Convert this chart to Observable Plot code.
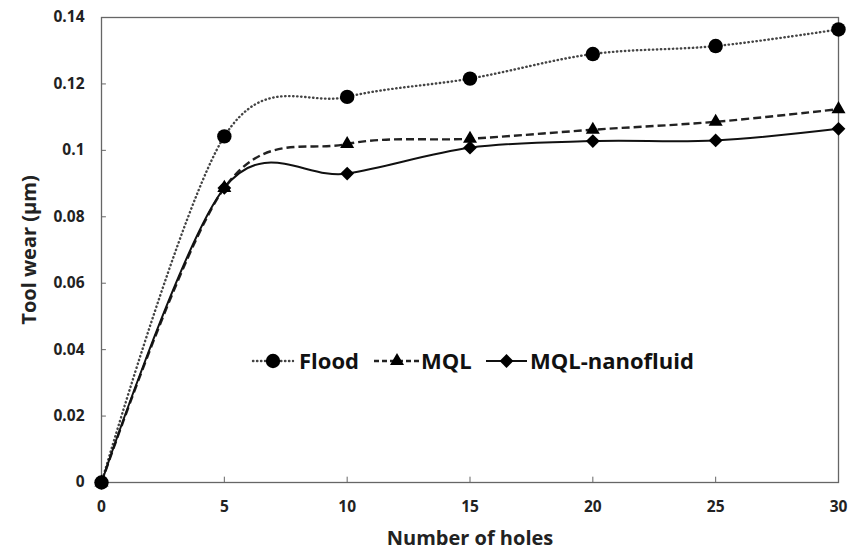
<!DOCTYPE html>
<html>
<head>
<meta charset="utf-8">
<script src="https://cdn.jsdelivr.net/npm/d3@7"></script>
<script src="https://cdn.jsdelivr.net/npm/@observablehq/plot@0.6"></script>
<style>
  html, body { margin: 0; padding: 0; background: #fff; }
  #wrap { position: relative; width: 862px; height: 551px; font-family: "Open Sans", sans-serif; }
  #wrap svg { font-family: "Open Sans", sans-serif; }
  [aria-label="x-axis tick label"] text, [aria-label="y-axis tick label"] text { font-size: 15.5px; font-weight: 700; fill: #222; }
  [aria-label="x-axis label"] text, [aria-label="y-axis label"] text { font-size: 20px; font-weight: 700; fill: #222; }
  #legend { position: absolute; left: 0; top: 0; pointer-events: none; }
</style>
</head>
<body>
<div id="wrap"></div>
<script>
const holes = [0, 5, 10, 15, 20, 25, 30];
const flood = [0, 0.1042, 0.1161, 0.1216, 0.1290, 0.1314, 0.1364];
const mql = [0, 0.0887, 0.1019, 0.1035, 0.1062, 0.1086, 0.1124];
const nano = [0, 0.0887, 0.0930, 0.1008, 0.1028, 0.1030, 0.1065];
const seriesNames = ["Flood", "MQL", "MQL-nanofluid"];
const xTicks = [0, 5, 10, 15, 20, 25, 30];
const yTicks = [0, 0.02, 0.04, 0.06, 0.08, 0.1, 0.12, 0.14];
const yTickLabels = ["0", "0.02", "0.04", "0.06", "0.08", "0.1", "0.12", "0.14"];

const styles = {
  "Flood": {stroke: "#444", strokeWidth: 2.4, dash: "0.4,3.6", cap: "round", symbol: "circle", r: 7.2},
  "MQL": {stroke: "#222", strokeWidth: 2.4, dash: "8,4", cap: "butt", symbol: "triangle", r: 5.2},
  "MQL-nanofluid": {stroke: "#111", strokeWidth: 2, dash: null, cap: "butt", symbol: "diamond2", r: 6.2}
};
const values = {"Flood": flood, "MQL": mql, "MQL-nanofluid": nano};
const rows = name => holes.map((h, i) => ({x: h, y: values[name][i], s: name}));

const marks = [
  Plot.frame({stroke: "#666", strokeWidth: 1.3}),
  Plot.ruleY(yTicks.slice(1, -1), {x1: 0, x2: 0.2, stroke: "#666", strokeWidth: 1}),
  Plot.ruleX(xTicks.slice(1, -1), {y1: 0, y2: 0.0016, stroke: "#666", strokeWidth: 1}),
  Plot.axisY(yTicks, {anchor: "left", tickSize: 0, tickPadding: 17, tickFormat: (d, i) => yTickLabels[i],
    label: "Tool wear (µm)", labelAnchor: "center", labelArrow: "none", labelOffset: 80}),
  Plot.axisX(xTicks, {anchor: "bottom", tickSize: 0, tickPadding: 18,
    label: "Number of holes", labelAnchor: "center", labelArrow: "none", labelOffset: 62})
];
for (const name of seriesNames) {
  const st = styles[name];
  marks.push(Plot.line(rows(name), {x: "x", y: "y", curve: "cardinal", stroke: st.stroke,
    strokeWidth: st.strokeWidth, strokeDasharray: st.dash, strokeLinecap: st.cap}));
}
for (const name of seriesNames) {
  const st = styles[name];
  marks.push(Plot.dot(rows(name), {x: "x", y: "y", symbol: st.symbol, r: st.r, fill: "#000", stroke: "none"}));
}

const chart = Plot.plot({
  width: 862, height: 551,
  marginLeft: 101, marginRight: 24, marginTop: 17, marginBottom: 69,
  x: {domain: [0, 30]},
  y: {domain: [0, 0.14]},
  marks
});
document.getElementById("wrap").appendChild(chart);

// legend
const lg = d3.select("#wrap").append("svg").attr("id", "legend").attr("width", 862).attr("height", 551);
const items = [
  {name: "Flood", x0: 253, x1: 293, tx: 299},
  {name: "MQL", x0: 374, x1: 420, tx: 421},
  {name: "MQL-nanofluid", x0: 486, x1: 527, tx: 530}
];
const ly = 361;
for (const it of items) {
  const st = styles[it.name];
  lg.append("line").attr("x1", it.x0).attr("x2", it.x1).attr("y1", ly).attr("y2", ly)
    .attr("stroke", st.stroke).attr("stroke-width", st.strokeWidth).attr("stroke-linecap", st.cap)
    .attr("stroke-dasharray", st.dash ? (it.name === "MQL" ? "5,3" : st.dash) : null);
  const sym = {circle: d3.symbolCircle, triangle: d3.symbolTriangle, diamond2: d3.symbolDiamond2}[st.symbol];
  lg.append("path").attr("d", d3.symbol(sym, Math.PI * st.r * st.r)())
    .attr("transform", `translate(${(it.x0 + it.x1) / 2},${ly})`).attr("fill", "#000");
  lg.append("text").attr("x", it.tx).attr("y", ly).attr("dy", "0.36em")
    .attr("font-size", 22).attr("font-weight", 700).attr("fill", "#111").text(it.name);
}
</script>
</body>
</html>
